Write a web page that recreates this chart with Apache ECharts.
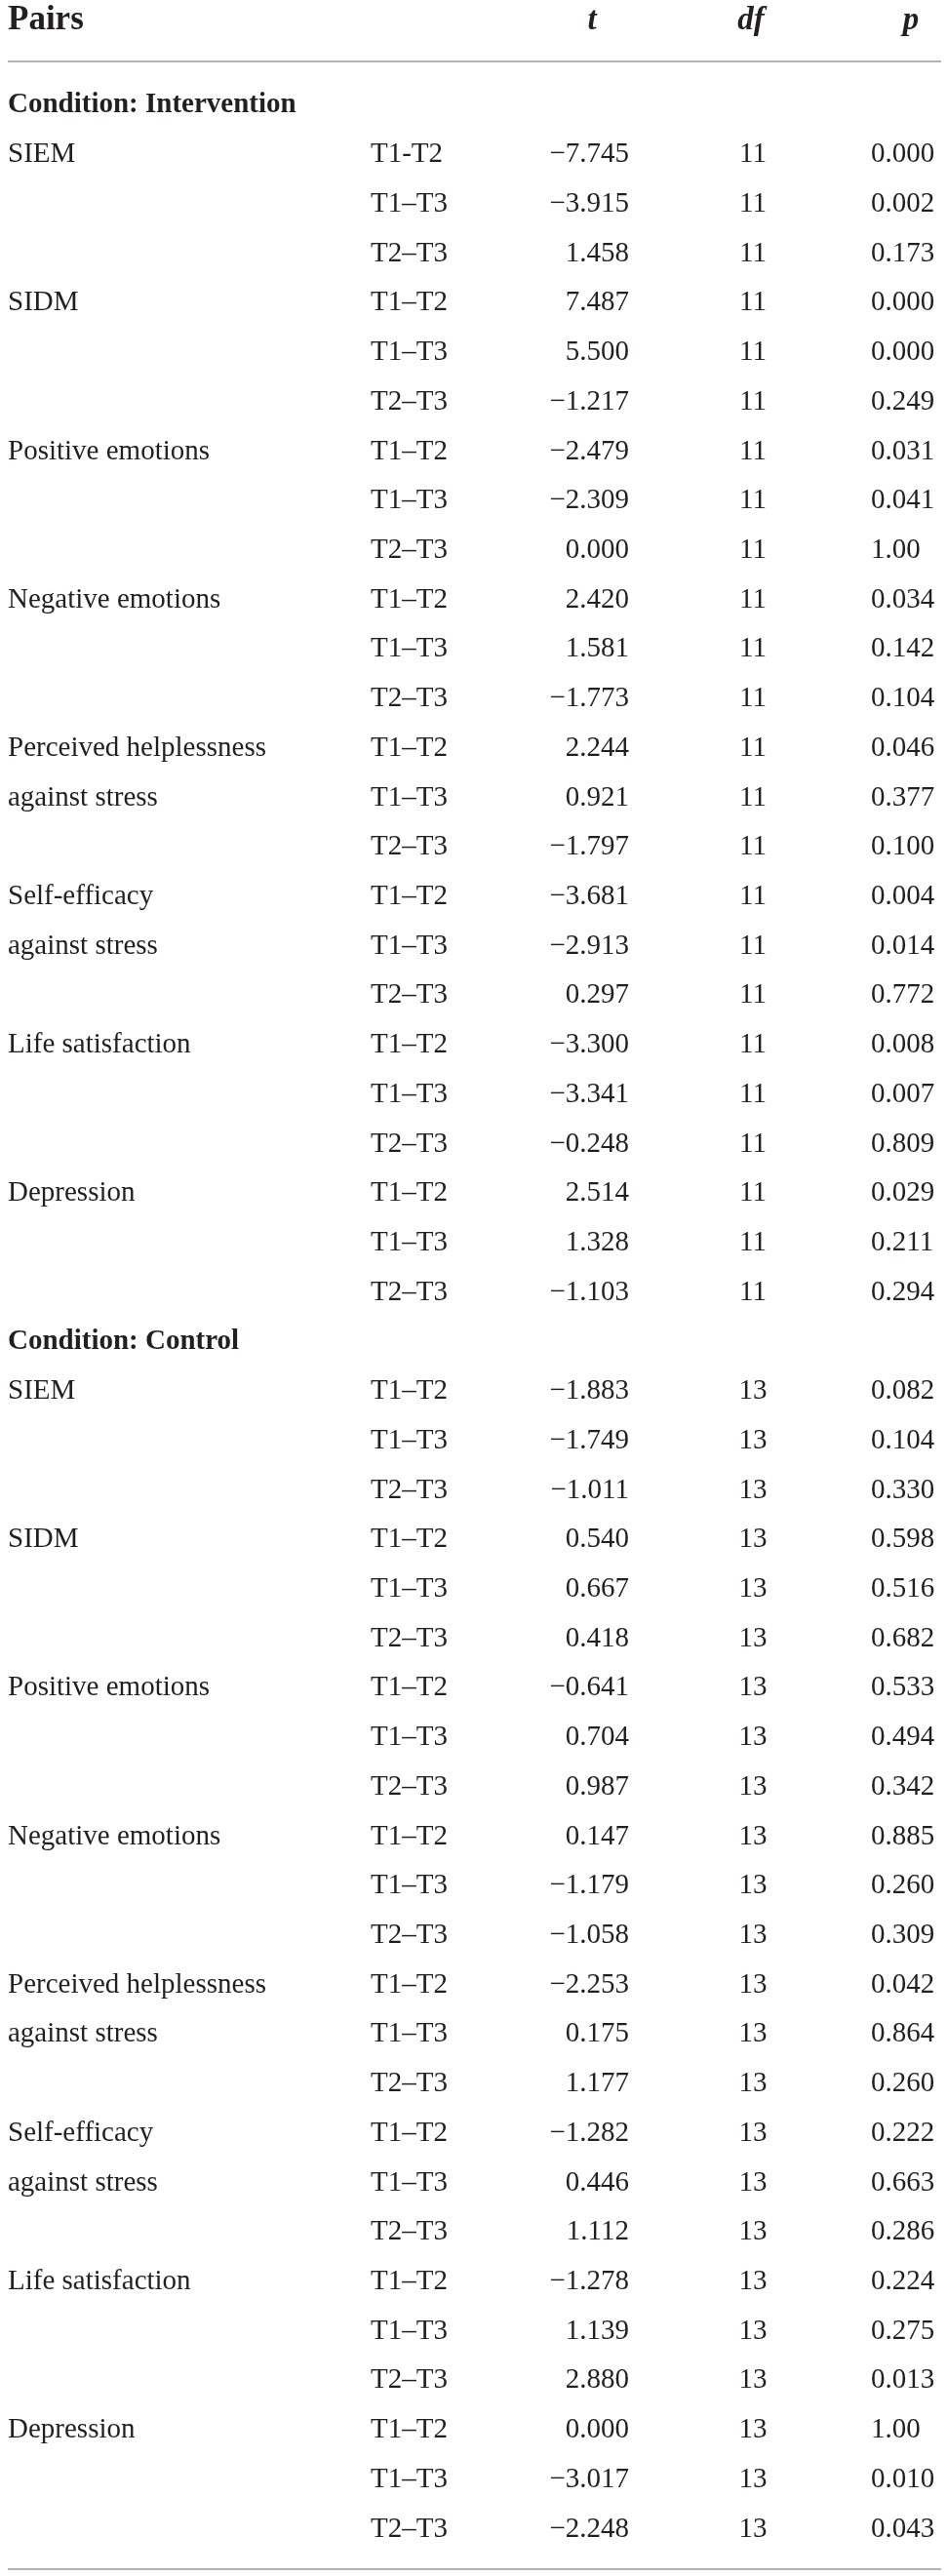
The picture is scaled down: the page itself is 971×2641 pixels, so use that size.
<!DOCTYPE html>
<html>
<head>
<meta charset="utf-8">
<script src="https://cdn.jsdelivr.net/npm/echarts@6/dist/echarts.min.js"></script>
<style>
  html, body { margin: 0; padding: 0; background: #fff; }
  #chart { width: 971px; height: 2641px; }
</style>
</head>
<body>
<div id="chart"></div>
<script>
const headers = ['Pairs', 't', 'df', 'p'];
const conditions = ['Intervention', 'Control'];
const measureNames = ['SIEM', 'SIDM', 'Positive emotions', 'Negative emotions',
  'Perceived helplessness', 'Self-efficacy', 'Life satisfaction', 'Depression'];
const measureSecondLine = ['', '', '', '', 'against stress', 'against stress', '', ''];
const pairLabels = ['T1–T2', 'T1–T3', 'T2–T3'];
const degreesOfFreedom = [11, 13];

const tIntervention = [-7.745, -3.915, 1.458, 7.487, 5.500, -1.217, -2.479, -2.309, 0.000,
  2.420, 1.581, -1.773, 2.244, 0.921, -1.797, -3.681, -2.913, 0.297,
  -3.300, -3.341, -0.248, 2.514, 1.328, -1.103];
const pIntervention = ['0.000', '0.002', '0.173', '0.000', '0.000', '0.249', '0.031', '0.041', '1.00',
  '0.034', '0.142', '0.104', '0.046', '0.377', '0.100', '0.004', '0.014', '0.772',
  '0.008', '0.007', '0.809', '0.029', '0.211', '0.294'];
const tControl = [-1.883, -1.749, -1.011, 0.540, 0.667, 0.418, -0.641, 0.704, 0.987,
  0.147, -1.179, -1.058, -2.253, 0.175, 1.177, -1.282, 0.446, 1.112,
  -1.278, 1.139, 2.880, 0.000, -3.017, -2.248];
const pControl = ['0.082', '0.104', '0.330', '0.598', '0.516', '0.682', '0.533', '0.494', '0.342',
  '0.885', '0.260', '0.309', '0.042', '0.864', '0.260', '0.222', '0.663', '0.286',
  '0.224', '0.275', '0.013', '1.00', '0.010', '0.043'];

// column anchors (px along the hidden x axis) and how text hangs off them
const colX = [8, 380, 645, 772, 893];
const colAlign = ['left', 'left', 'right', 'center', 'left'];
const headerX = [8, 607, 770, 934];
const headerAlign = ['left', 'center', 'center', 'center'];

const SERIF = "'Liberation Serif', 'DejaVu Serif', serif";
const INK = '#231f20';

const fmtT = v => (v < 0 ? '−' : '') + Math.abs(v).toFixed(3);

// build rows
const rowIds = [];
const cells = [];   // [col, row, text, bold]
const tAll = [tIntervention, tControl];
const pAll = [pIntervention, pControl];
conditions.forEach((cond, c) => {
  const r0 = rowIds.length;
  rowIds.push('cond' + c);
  cells.push([0, r0, 'Condition: ' + cond, 1]);
  measureNames.forEach((m, i) => {
    pairLabels.forEach((pl, j) => {
      const r = rowIds.length;
      rowIds.push('r' + r);
      const k = i * 3 + j;
      let lab = '';
      if (j === 0) lab = m;
      else if (j === 1) lab = measureSecondLine[i];
      if (lab) cells.push([0, r, lab, 0]);
      const pairText = (c === 0 && k === 0) ? 'T1-T2' : pl;
      cells.push([1, r, pairText, 0]);
      cells.push([2, r, fmtT(tAll[c][k]), 0]);
      cells.push([3, r, String(degreesOfFreedom[c]), 0]);
      cells.push([4, r, pAll[c][k], 0]);
    });
  });
});

const headerCells = headers.map((h, i) => [i, 0, h]);

const chart = echarts.init(document.getElementById('chart'), null, { renderer: 'canvas' });

const option = {
  backgroundColor: '#fff',
  animation: false,
  grid: [
    { left: 0, right: 0, top: 0, height: 42 },
    { left: 0, right: 0, top: 82.64, bottom: 22.66 }
  ],
  xAxis: [
    { gridIndex: 0, type: 'value', min: 0, max: 971, show: false },
    { gridIndex: 1, type: 'value', min: 0, max: 971, show: false }
  ],
  yAxis: [
    { gridIndex: 0, type: 'category', data: ['header'], show: false },
    { gridIndex: 1, type: 'category', data: rowIds, inverse: true, show: false }
  ],
  graphic: [
    { type: 'line', shape: { x1: 8, y1: 63, x2: 965, y2: 63 }, style: { stroke: '#9a9a9a', lineWidth: 1.5 } },
    { type: 'line', shape: { x1: 8, y1: 2634, x2: 965, y2: 2634 }, style: { stroke: '#9a9a9a', lineWidth: 1.5 } }
  ],
  series: [
    {
      type: 'custom',
      xAxisIndex: 0,
      yAxisIndex: 0,
      data: headerCells,
      renderItem: (params, api) => {
        const col = api.value(0);
        const pt = api.coord([headerX[col], api.value(1)]);
        const txt = headers[col];
        return {
          type: 'text',
          x: pt[0], y: pt[1],
          style: {
            text: txt,
            textAlign: headerAlign[col],
            textVerticalAlign: 'middle',
            font: (col === 0 ? 'bold ' : 'italic bold ') + (col === 0 ? 35 : 33) + 'px ' + SERIF,
            fill: INK
          }
        };
      }
    },
    {
      type: 'custom',
      xAxisIndex: 1,
      yAxisIndex: 1,
      data: cells,
      encode: { x: 0, y: 1 },
      renderItem: (params, api) => {
        const d = cells[params.dataIndex];
        const pt = api.coord([colX[d[0]], d[1]]);
        return {
          type: 'text',
          x: pt[0], y: pt[1],
          style: {
            text: d[2],
            textAlign: colAlign[d[0]],
            textVerticalAlign: 'middle',
            font: (d[3] ? 'bold ' : '') + '29px ' + SERIF,
            fill: INK
          }
        };
      }
    }
  ]
};

chart.setOption(option);
window.addEventListener('resize', () => chart.resize());
</script>
</body>
</html>
